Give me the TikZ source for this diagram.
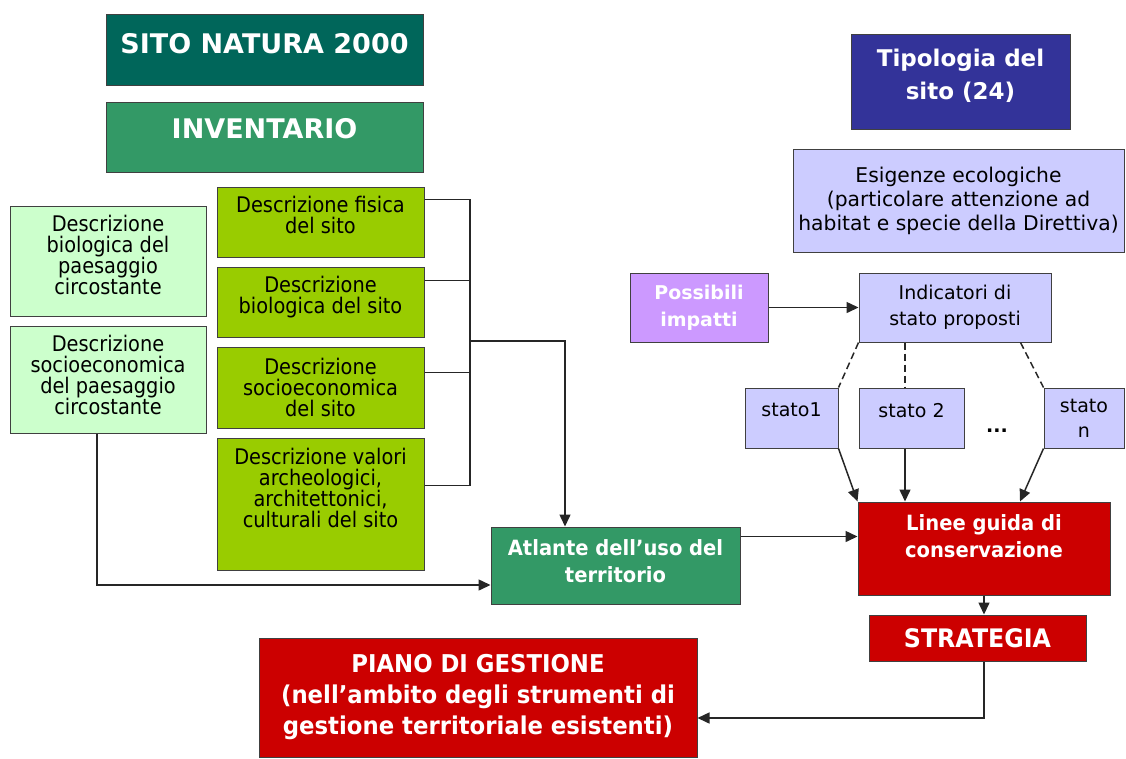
\documentclass[tikz,border=0pt]{standalone}
\usepackage{fontspec}
\setmainfont{DejaVu Sans}
\newfontfamily\narrowfont{DejaVu Sans}[FakeStretch=0.9]
\newfontfamily\narrowbold{DejaVu Sans Bold}[FakeStretch=0.93]
\usetikzlibrary{arrows.meta}
\definecolor{natteal}{RGB}{0,102,90}
\definecolor{invgreen}{RGB}{51,153,102}
\definecolor{palegreen}{RGB}{204,255,204}
\definecolor{limegreen}{RGB}{153,204,0}
\definecolor{deepblue}{RGB}{51,51,153}
\definecolor{paleblue}{RGB}{204,204,255}
\definecolor{lilac}{RGB}{204,153,255}
\definecolor{boxred}{RGB}{204,0,0}
\newcommand{\lowpad}[1]{\rule[-#1pt]{0pt}{0pt}}
\tikzset{
  box/.style={draw=black!75,line width=1pt,align=center,inner sep=0pt},
  body/.style={box,font=\narrowfont\fontsize{21.5}{21}\selectfont},
  note/.style={box,fill=paleblue,font=\fontsize{20.3}{24}\selectfont},
  head/.style={box,text=white,font=\bfseries\fontsize{27}{33}\selectfont},
  tag/.style={box,text=white,font=\narrowbold\fontsize{21}{27}\selectfont},
  link/.style={line width=1.5pt,draw=black!85},
  >={Triangle[length=12pt,width=11pt]}
}
\begin{document}
\begin{tikzpicture}[x=1pt,y=-1pt]
\useasboundingbox (0,0) rectangle (1126,758);
% inventario
\node[head,fill=natteal,minimum width=317,minimum height=71] (nat) at (264.5,49.5) {SITO NATURA 2000\lowpad{13}};
\node[head,fill=invgreen,minimum width=317,minimum height=70] (inv) at (264.5,137) {INVENTARIO\lowpad{18}};
\node[body,fill=palegreen,minimum width=196,minimum height=110] (bp) at (108,261) {Descrizione\\biologica del\\paesaggio\\circostante\lowpad{12}};
\node[body,fill=palegreen,minimum width=196,minimum height=107] (sp) at (108,379.5) {Descrizione\\socioeconomica\\del paesaggio\\circostante\lowpad{9}};
\node[body,fill=limegreen,minimum width=207,minimum height=70] (fis) at (320.5,222) {Descrizione fisica\\del sito\lowpad{14}};
\node[body,fill=limegreen,minimum width=207,minimum height=70] (bio) at (320.5,302) {Descrizione\\biologica del sito\lowpad{14}};
\node[body,fill=limegreen,minimum width=207,minimum height=81] (soc) at (320.5,387.5) {Descrizione\\socioeconomica\\del sito};
\node[body,fill=limegreen,minimum width=207,minimum height=132] (val) at (320.5,504) {Descrizione valori\\archeologici,\\architettonici,\\culturali del sito\lowpad{33}};
\node[tag,fill=invgreen,minimum width=249,minimum height=77] (atl) at (615.5,565.5) {Atlante dell’uso del\\territorio\lowpad{9}};
% tipologia
\node[head,fill=deepblue,minimum width=219,minimum height=95,font=\bfseries\fontsize{23}{33}\selectfont] (tip) at (960.5,81.5) {Tipologia del\\sito (24)\lowpad{14}};
\node[note,minimum width=331,minimum height=103] (esi) at (958.5,200.5) {Esigenze ecologiche\\(particolare attenzione ad\\habitat e specie della Direttiva)};
\node[head,fill=lilac,minimum width=138,minimum height=69,font=\bfseries\fontsize{19}{27}\selectfont] (imp) at (699,307.5) {Possibili\\impatti};
\node[note,minimum width=192,minimum height=69,font=\fontsize{19}{26}\selectfont] (ind) at (955,307.5) {Indicatori di\\stato proposti};
\node[note,minimum width=93,minimum height=60,font=\fontsize{19}{25}\selectfont] (s1) at (791.5,418) {stato1\lowpad{16}};
\node[note,minimum width=105,minimum height=60,font=\fontsize{19}{25}\selectfont] (s2) at (911.5,418) {stato 2\lowpad{16}};
\node[note,minimum width=80,minimum height=60,font=\fontsize{19}{25}\selectfont] (sn) at (1084,418) {stato\\n};
\node[font=\bfseries\fontsize{19}{19}\selectfont] (dots) at (997,431) {...};
\node[tag,fill=boxred,minimum width=252,minimum height=93] (lin) at (984,548.5) {Linee guida di\\conservazione\lowpad{24}};
\node[tag,fill=boxred,minimum width=217,minimum height=46,font=\narrowbold\fontsize{25.5}{30}\selectfont] (str) at (977.5,638) {STRATEGIA};
\node[tag,fill=boxred,minimum width=438,minimum height=119,font=\narrowbold\fontsize{24.5}{31}\selectfont] (pia) at (478,697.5) {PIANO DI GESTIONE\\(nell’ambito degli strumenti di\\gestione territoriale esistenti)};
% collegamenti
\coordinate (j) at (470,341);
\draw[link] ([yshift=-13pt]fis.north east) -| (j);
\draw[link] ([yshift=-14pt]bio.north east) -| (j);
\draw[link] ([yshift=-26pt]soc.north east) -| (j);
\draw[link] ([yshift=-48pt]val.north east) -| (j);
\draw[link,->] (j) -| ([xshift=-50.5pt]atl.north);
\draw[link,->] ([xshift=-11pt]sp.south) |- ([yshift=-19.5pt]atl.west);
\draw[link,->] ([yshift=-10pt]atl.north east) -- ([yshift=-10pt]atl.north east -| lin.west);
\draw[link,->] (imp) -- (ind);
\draw[link,dash pattern=on 7pt off 4pt] (ind.south west) -- (s1.north east);
\draw[link,dash pattern=on 7pt off 4pt] ([xshift=-50pt]ind.south) -- ([xshift=-50pt]ind.south |- s2.north);
\draw[link,dash pattern=on 7pt off 4pt] ([xshift=-31pt]ind.south east) -- (sn.north west);
\draw[link,->] (s1.south east) -- (lin.north west);
\draw[link,->] ([xshift=-6.5pt]s2.south) -- ([xshift=-6.5pt]s2.south |- lin.north);
\draw[link,->] (sn.south west) -- ([xshift=36pt]lin.north);
\draw[link,->] (lin.south) -- (lin.south |- str.north);
\draw[link,->] ([xshift=6.5pt]str.south) |- ([yshift=-20.5pt]pia.east);
\end{tikzpicture}
\end{document}
